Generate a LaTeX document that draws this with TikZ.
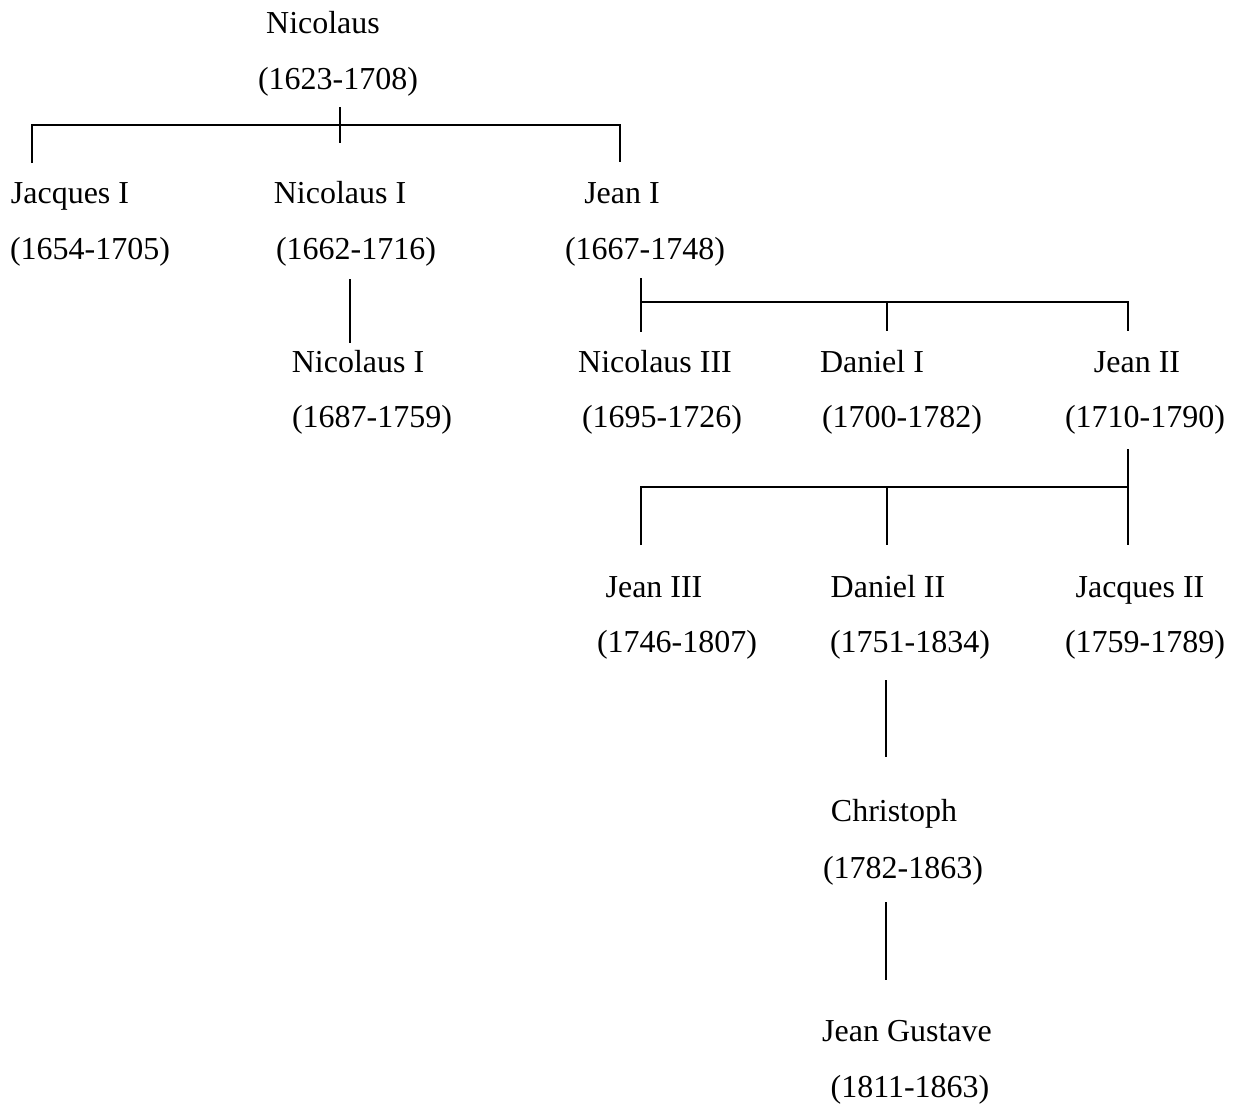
\documentclass[tikz,border=0pt]{standalone}
\usepackage{fontspec}
\setmainfont{Liberation Serif}
\usetikzlibrary{positioning,calc}
\tikzset{
    every picture/.style={line width=1pt},
    person/.style={inner sep=0pt,anchor=base,font=\fontsize{18.2pt}{22pt}\selectfont}
}

\begin{document}
\begin{tikzpicture}[x=0.02cm,y=-0.02cm]
        \useasboundingbox (0,0) rectangle (1238,1103);
        % Nicolaus
        \node[person] (nic) at (323,33) {Nicolaus};
        \node[person] (nicd) at (338,89) {(1623-1708)};

        % His sons
        \node[person] (jac) at (70,203) {Jacques I};
        \node[person] (jacd) at (90,259) {(1654-1705)};
        \node[person] (nicone) at (340,203) {Nicolaus I};
        \node[person] (niconed) at (356,259) {(1662-1716)};
        \node[person] (jean) at (622,203) {Jean I};
        \node[person] (jeand) at (645,259) {(1667-1748)};

        % Grandsons
        \node[person] (nicson) at (358,372) {Nicolaus I};
        \node[person] (nicsond) at (372,427) {(1687-1759)};
        \node[person] (nicthree) at (655,372) {Nicolaus III};
        \node[person] (nicthreed) at (662,427) {(1695-1726)};
        \node[person] (dan) at (872,372) {Daniel I};
        \node[person] (dand) at (902,427) {(1700-1782)};
        \node[person] (jeantwo) at (1137,372) {Jean II};
        \node[person] (jeantwod) at (1145,427) {(1710-1790)};

        % Sons of Jean II
        \node[person] (jeanthree) at (654,597) {Jean III};
        \node[person] (jeanthreed) at (677,652) {(1746-1807)};
        \node[person] (dantwo) at (888,597) {Daniel II};
        \node[person] (dantwod) at (910,652) {(1751-1834)};
        \node[person] (jactwo) at (1140,597) {Jacques II};
        \node[person] (jactwod) at (1145,652) {(1759-1789)};

        % Christoph and Jean Gustave
        \node[person] (chr) at (894,821) {Christoph};
        \node[person] (chrd) at (903,878) {(1782-1863)};
        \node[person] (gus) at (907,1041) {Jean Gustave};
        \node[person] (gusd) at (910,1097) {(1811-1863)};

        % Bracket under Nicolaus
        \coordinate (n0t) at (340,107);
        \coordinate (n0b) at (340,143);
        \coordinate (n0l) at (32,125);
        \coordinate (n0le) at (32,163);
        \coordinate (n0r) at (620,125);
        \coordinate (n0re) at (620,162);
        \draw (n0t) -- (n0b);
        \draw (n0le) -- (n0l) -- (n0r) -- (n0re);

        % Nicolaus I to his son
        \coordinate (n1t) at (350,279);
        \coordinate (n1b) at (350,343);
        \draw (n1t) -- (n1b);

        % Bracket under Jean I
        \coordinate (j1t) at (641,278);
        \coordinate (j1b) at (641,332);
        \coordinate (j1m) at (641,302);
        \coordinate (j1c) at (887,302);
        \coordinate (j1ce) at (887,331);
        \coordinate (j1r) at (1128,302);
        \coordinate (j1re) at (1128,331);
        \draw (j1t) -- (j1b);
        \draw (j1m) -- (j1r) -- (j1re);
        \draw (j1c) -- (j1ce);

        % Bracket under Jean II
        \coordinate (j2t) at (1128,449);
        \coordinate (j2b) at (1128,545);
        \coordinate (j2r) at (1128,487);
        \coordinate (j2l) at (641,487);
        \coordinate (j2le) at (641,545);
        \coordinate (j2c) at (887,487);
        \coordinate (j2ce) at (887,545);
        \draw (j2t) -- (j2b);
        \draw (j2le) -- (j2l) -- (j2r);
        \draw (j2c) -- (j2ce);

        % Daniel II down to Jean Gustave
        \coordinate (d2t) at (886,680);
        \coordinate (d2b) at (886,757);
        \coordinate (ct) at (886,902);
        \coordinate (cb) at (886,980);
        \draw (d2t) -- (d2b);
        \draw (ct) -- (cb);
    \end{tikzpicture}
\end{document}
